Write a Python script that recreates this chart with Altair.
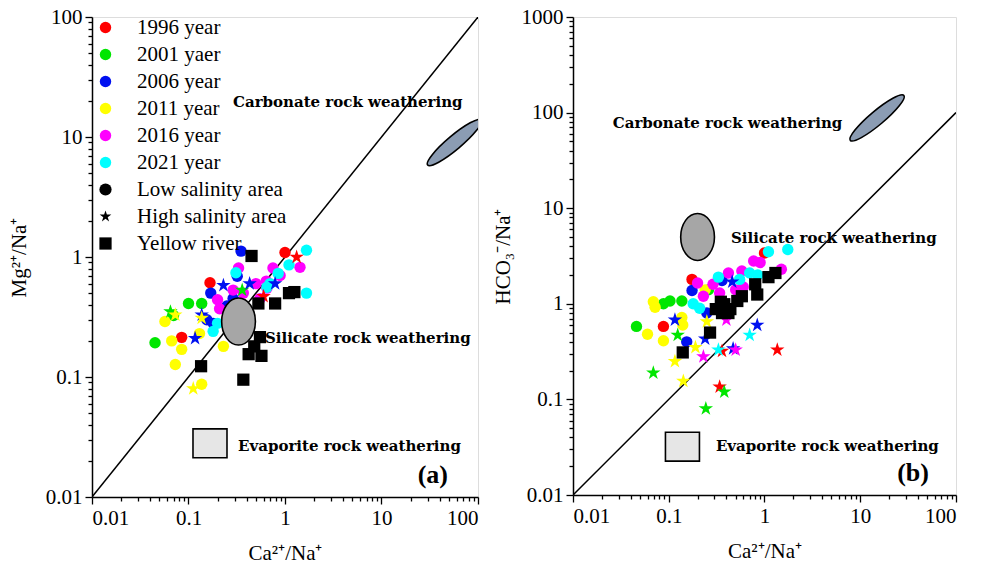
import altair as alt
import pandas as pd

YEARS = ["1996 year", "2001 yaer", "2006 year", "2011 year", "2016 year", "2021 year"]
YEAR_COLORS = ["#ff0000", "#00e600", "#0010f0", "#ffff00", "#ff00ff", "#00ffff"]
AREAS = ["Low salinity area", "High salinity area", "Yellow river"]
STAR = ("M0,-1L0.225,-0.309L0.951,-0.309L0.363,0.118L0.588,0.809L0,0.382"
        "L-0.588,0.809L-0.363,0.118L-0.951,-0.309L-0.225,-0.309Z")
AREA_SHAPES = ["circle", STAR, "square"]

# ---------- panel (a): Ca/Na , Mg/Na , L = low salinity, H = high salinity
A_1996 = [(0.167, 0.61, "L"), (0.085, 0.214, "L"), (1.0, 1.09, "L"), (1.32, 1.0, "H"), (0.6, 0.47, "H")]
A_2001 = [(0.045, 0.193, "L"), (0.1, 0.41, "L"), (0.137, 0.41, "L"), (0.07, 0.325, "L"),
          (0.065, 0.35, "H"), (0.36, 0.53, "H")]
A_2006 = [(0.35, 1.12, "L"), (0.17, 0.5, "L"), (0.155, 0.3, "L"), (0.18, 0.28, "L"), (0.25, 0.39, "L"),
          (0.29, 0.45, "L"), (0.32, 0.69, "L"),
          (0.23, 0.58, "H"), (0.117, 0.21, "H"), (0.43, 0.6, "H"), (0.79, 0.6, "H"), (0.137, 0.33, "H")]
A_2011 = [(0.057, 0.29, "L"), (0.067, 0.2, "L"), (0.085, 0.17, "L"), (0.073, 0.127, "L"), (0.137, 0.087, "L"),
          (0.13, 0.23, "L"), (0.23, 0.18, "L"),
          (0.112, 0.08, "H"), (0.073, 0.33, "H"), (0.137, 0.31, "H")]
A_2016 = [(0.33, 0.81, "L"), (0.2, 0.44, "L"), (0.29, 0.53, "L"), (0.37, 0.5, "L"), (0.5, 0.6, "L"),
          (0.64, 0.63, "L"), (0.75, 0.81, "L"), (0.89, 0.7, "L"), (1.43, 0.82, "L"), (0.21, 0.37, "L"),
          (0.55, 0.45, "L"), (0.65, 0.55, "L")]
A_2021 = [(1.67, 1.14, "L"), (1.1, 0.86, "L"), (1.67, 0.5, "L"), (0.7, 0.6, "L"), (0.85, 0.73, "L"),
          (0.31, 0.74, "L"), (0.18, 0.24, "L"), (0.2, 0.28, "L"), (0.65, 0.56, "L")]
A_RIVER = [(0.45, 1.02), (0.53, 0.41), (0.79, 0.41), (1.1, 0.5), (1.25, 0.51), (0.55, 0.215),
           (0.48, 0.18), (0.42, 0.155), (0.57, 0.15), (0.37, 0.095), (0.135, 0.123)]

# ---------- panel (b): Ca/Na , HCO3/Na
B_1996 = [(0.175, 1.8, "L"), (0.088, 0.58, "L"), (1.0, 3.4, "L"),
          (0.34, 0.135, "H"), (0.36, 0.32, "H"), (1.36, 0.33, "H")]
B_2001 = [(0.046, 0.58, "L"), (0.088, 1.0, "L"), (0.103, 1.07, "L"), (0.137, 1.07, "L"), (0.26, 1.4, "L"),
          (0.124, 0.47, "H"), (0.069, 0.19, "H"), (0.244, 0.08, "H"), (0.38, 0.12, "H")]
B_2006 = [(0.175, 1.38, "L"), (0.154, 0.4, "L"), (0.25, 0.8, "L"), (0.36, 1.75, "L"),
          (0.116, 0.68, "H"), (0.24, 0.43, "H"), (0.84, 0.6, "H"), (0.46, 1.7, "H"), (0.47, 0.34, "H")]
B_2011 = [(0.069, 1.05, "L"), (0.072, 0.92, "L"), (0.06, 0.48, "L"), (0.088, 0.41, "L"), (0.137, 0.72, "L"),
          (0.14, 0.6, "L"), (0.24, 1.4, "L"),
          (0.116, 0.25, "H"), (0.142, 0.155, "H"), (0.19, 0.35, "H"), (0.25, 0.65, "H")]
B_2016 = [(0.2, 1.65, "L"), (0.23, 1.2, "L"), (0.34, 1.3, "L"), (0.42, 2.1, "L"), (0.58, 2.2, "L"),
          (0.77, 2.8, "L"), (0.9, 2.7, "L"), (1.5, 2.3, "L"), (0.5, 1.4, "L"), (0.6, 1.5, "L"), (0.29, 1.6, "L"),
          (0.23, 0.28, "H"), (0.4, 0.68, "H"), (0.5, 0.33, "H")]
B_2021 = [(1.1, 3.5, "L"), (1.75, 3.7, "L"), (0.33, 1.9, "L"), (0.7, 2.1, "L"), (0.85, 2.0, "L"),
          (0.18, 1.0, "L"), (0.21, 0.9, "L"), (0.55, 1.8, "L"),
          (0.7, 0.47, "H"), (0.33, 0.33, "H")]
B_RIVER = [(0.14, 0.31), (0.27, 0.5), (0.31, 0.88), (0.36, 0.8), (0.38, 0.99), (0.44, 0.88), (0.52, 1.07),
           (0.58, 1.2), (0.8, 1.6), (0.84, 1.25), (1.1, 1.9), (1.3, 2.1), (0.35, 1.05), (0.42, 0.8)]

# annotation texts and region symbols (data coordinates)
A_TEXTS = [("Carbonate rock weathering", 0.289, 19.6), ("Silicate rock weathering", 0.62, 0.211),
           ("Evaporite rock weathering", 0.326, 0.0266)]
B_TEXTS = [("Carbonate rock weathering", 0.026, 78), ("Silicate rock weathering", 0.447, 4.87),
           ("Evaporite rock weathering", 0.311, 0.0326)]
A_TAG = ("(a)", 34, 0.0153)
B_TAG = ("(b)", 35.6, 0.017)
A_REGIONS = {"carb": (57, 9.0), "sil": (0.33, 0.29), "evap": (0.167, 0.028)}
B_REGIONS = {"carb": (15, 88), "sil": (0.2, 5.0), "evap": (0.139, 0.032)}
LINE_X = [0.01, 100]

CARB_PATH = "M0.766,-0.643A1,0.2,-40,0,0,-0.766,0.643A1,0.2,-40,0,0,0.766,-0.643Z"
SIL_PATH = "M0,-1A0.72,1,0,0,0,0,1A0.72,1,0,0,0,0,-1Z"
EVAP_PATH = "M-1,-0.85L1,-0.85L1,0.85L-1,0.85Z"

SERIF = "Liberation Serif"
NOTE_FONT = "DejaVu Serif"
AREA_MAP = {"L": "Low salinity area", "H": "High salinity area"}


def points_df(series, code):
    rows = []
    for year, pts in zip(YEARS, series):
        for x, y, a in pts:
            if a == code:
                rows.append({"year": year, "area": AREA_MAP[a], "x": x, "y": y})
    return pd.DataFrame(rows)


def river_df(pts):
    return pd.DataFrame([{"x": x, "y": y, "area": "Yellow river"} for x, y in pts])


major_test = "abs(log(datum.value)/LN10 - round(log(datum.value)/LN10)) < 0.001"
label_expr = "abs(log(datum.value)/LN10 - round(log(datum.value)/LN10)) < 0.001 ? format(datum.value, '~g') : ''"


def tick_values(lo, hi):
    vals = []
    for e in range(lo, hi):
        for k in range(1, 10):
            vals.append(round(k * 10 ** e, 6))
    vals.append(10 ** hi)
    return vals


def axis(title, lo, hi, title_pad):
    return alt.Axis(
        title=title, values=tick_values(lo, hi), labelExpr=label_expr,
        tickSize={"condition": {"test": major_test, "value": 7}, "value": 4},
        grid=False, labelFont=SERIF, labelFontSize=21, labelColor="black",
        titleFont=SERIF, titleFontSize=21, titleFontWeight="normal", titleColor="black",
        domainColor="black", domainWidth=1.5, tickColor="black", tickWidth=1.3,
        labelPadding=3, titlePadding=title_pad,
    )


def panel(series, river, texts, tag, regions, ymax_exp, ytitle, ytitle_pad, legend, w, h):
    xs = alt.Scale(type="log", domain=[0.01, 100], nice=False)
    ys = alt.Scale(type="log", domain=[0.01, 10 ** ymax_exp], nice=False)
    xenc = alt.X("x:Q", scale=xs, axis=axis("Ca²⁺/Na⁺", -2, 2, 14))
    yenc = alt.Y("y:Q", scale=ys, axis=axis(ytitle, -2, ymax_exp, ytitle_pad))

    if legend:
        color_leg = alt.Legend(orient="none", legendX=3, legendY=0, title=None, symbolType="circle",
                               symbolSize=130, symbolStrokeWidth=0, labelFont=SERIF, labelFontSize=21,
                               labelColor="black", labelOffset=21, rowPadding=5, padding=0)
        shape_leg = alt.Legend(orient="none", legendX=3, legendY=162, title=None, symbolSize=150,
                               labelFont=SERIF, labelFontSize=21, labelColor="black", labelOffset=21,
                               rowPadding=5, padding=0, symbolFillColor="black",
                               symbolStrokeColor="black", symbolStrokeWidth=0)
    else:
        color_leg = None
        shape_leg = None

    shape_scale = alt.Scale(domain=AREAS, range=AREA_SHAPES)
    color_scale = alt.Scale(domain=YEARS, range=YEAR_COLORS)

    line = alt.Chart(pd.DataFrame({"x": LINE_X, "y": LINE_X})).mark_line(
        color="black", strokeWidth=1.5, clip=True).encode(x=xenc, y=yenc)

    def pts_layer(code, size):
        return alt.Chart(points_df(series, code)).mark_point(filled=True, opacity=1, size=size).encode(
            x=xenc, y=yenc,
            color=alt.Color("year:N", scale=color_scale, legend=color_leg),
            shape=alt.Shape("area:N", scale=shape_scale, legend=shape_leg),
        )

    low = pts_layer("L", 130)
    high = pts_layer("H", 230)

    reg_layers = []
    cx, cy = regions["carb"]
    reg_layers.append(alt.Chart(pd.DataFrame({"x": [cx], "y": [cy]})).mark_point(
        filled=True, shape=CARB_PATH, size=4900, fill="#8b9cb3", stroke="black", strokeWidth=1.6,
        opacity=1, clip=True).encode(x=xenc, y=yenc))
    sx, sy = regions["sil"]
    reg_layers.append(alt.Chart(pd.DataFrame({"x": [sx], "y": [sy]})).mark_point(
        filled=True, shape=SIL_PATH, size=2200, fill="#a6a6a6", stroke="black", strokeWidth=1.6,
        opacity=1).encode(x=xenc, y=yenc))
    ex, ey = regions["evap"]
    reg_layers.append(alt.Chart(pd.DataFrame({"x": [ex], "y": [ey]})).mark_point(
        filled=True, shape=EVAP_PATH, size=1156, fill="#e6e6e6", stroke="black", strokeWidth=1.6,
        opacity=1).encode(x=xenc, y=yenc))

    riv = alt.Chart(river_df(river)).mark_point(filled=True, opacity=1, size=150, color="black").encode(
        x=xenc, y=yenc,
        shape=alt.Shape("area:N", scale=shape_scale, legend=shape_leg),
    )

    tdf = pd.DataFrame([{"t": t, "x": x, "y": y} for t, x, y in texts])
    txt = alt.Chart(tdf).mark_text(align="left", baseline="middle", font=NOTE_FONT, fontSize=15,
                                   fontWeight="bold", color="black").encode(x=xenc, y=yenc, text="t:N")
    tagdf = pd.DataFrame([{"t": tag[0], "x": tag[1], "y": tag[2]}])
    tagm = alt.Chart(tagdf).mark_text(align="center", baseline="middle", font=SERIF, fontSize=26,
                                      fontWeight="bold", color="black").encode(x=xenc, y=yenc, text="t:N")

    return alt.layer(line, low, high, *reg_layers, riv, txt, tagm).properties(width=w, height=h)


pa = panel([A_1996, A_2001, A_2006, A_2011, A_2016, A_2021], A_RIVER, A_TEXTS, A_TAG, A_REGIONS,
           2, "Mg²⁺/Na⁺", 16, True, 386, 480)
pb = panel([B_1996, B_2001, B_2006, B_2011, B_2016, B_2021], B_RIVER, B_TEXTS, B_TAG, B_REGIONS,
           3, "HCO₃⁻/Na⁺", 8, False, 383, 478)

chart = alt.hconcat(pa, pb, spacing=95, bounds="flush").resolve_scale(
    color="independent", shape="independent"
).configure_view(stroke="black", strokeWidth=1.5).configure(background="white").properties(
    padding={"left": 7, "top": 5, "right": 5, "bottom": 5}
)

chart.save("out.html", embed_options={"renderer": "svg", "actions": False})
